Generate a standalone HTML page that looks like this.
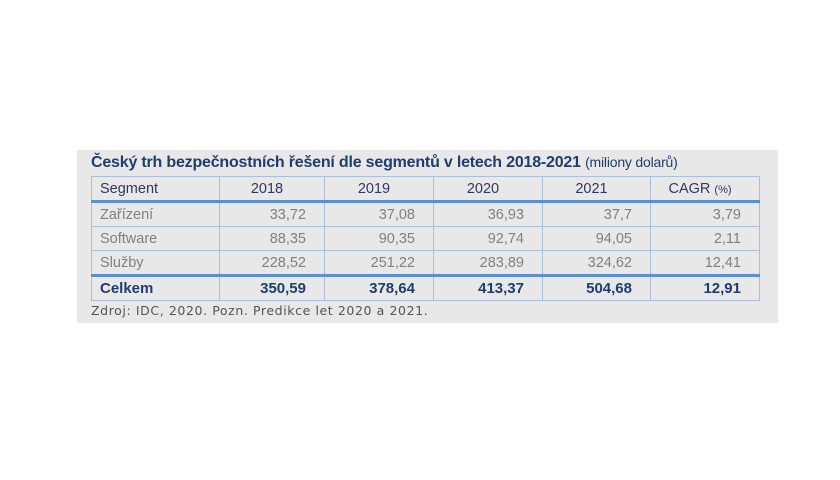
<!DOCTYPE html>
<html><head><meta charset="utf-8"><style>
body{margin:0;width:840px;height:480px;background:#fff;position:relative;font-family:"Liberation Sans",sans-serif;overflow:hidden}
#box{position:absolute;left:77px;top:150px;width:701px;height:173px;background:#e8e8e8}
#title{position:absolute;left:91px;top:154px;font-size:16px;font-weight:bold;color:#1f3d6e;white-space:nowrap;letter-spacing:-0.2px}
#title span{font-weight:normal;font-size:14px}
table{position:absolute;left:91px;top:176px;border-collapse:collapse;font-size:14.5px}
td{border:1px solid #a9bfdc;height:23px;padding:0 18px 0 8px;color:#808080;text-align:right}
td:first-child{text-align:left}
tr.h td{color:#2b3a5e;text-align:center;border-bottom:3px solid #5b8fd0}
tr.h td:first-child{text-align:left}
tr.t td{color:#1f3d6e;font-weight:bold;border-top:3px solid #5b8fd0;font-size:15px}
#src{position:absolute;left:91px;top:303px;font-family:"DejaVu Sans",sans-serif;font-size:12.5px;color:#555;letter-spacing:0.6px}
</style></head><body>
<div id="box"></div>
<div id="title">Český trh bezpečnostních řešení dle segmentů v letech 2018-2021 <span>(miliony dolarů)</span></div>
<table>
<colgroup><col style="width:128px"><col style="width:105px"><col style="width:109px"><col style="width:109px"><col style="width:108px"><col style="width:109px"></colgroup>
<tr class="h"><td>Segment</td><td>2018</td><td>2019</td><td>2020</td><td>2021</td><td>CAGR <span style="font-size:11px">(%)</span></td></tr>
<tr><td>Zařízení</td><td>33,72</td><td>37,08</td><td>36,93</td><td>37,7</td><td>3,79</td></tr>
<tr><td>Software</td><td>88,35</td><td>90,35</td><td>92,74</td><td>94,05</td><td>2,11</td></tr>
<tr><td>Služby</td><td>228,52</td><td>251,22</td><td>283,89</td><td>324,62</td><td>12,41</td></tr>
<tr class="t"><td>Celkem</td><td>350,59</td><td>378,64</td><td>413,37</td><td>504,68</td><td>12,91</td></tr>
</table>
<div id="src">Zdroj: IDC, 2020. Pozn. Predikce let 2020 a 2021.</div>
</body></html>
